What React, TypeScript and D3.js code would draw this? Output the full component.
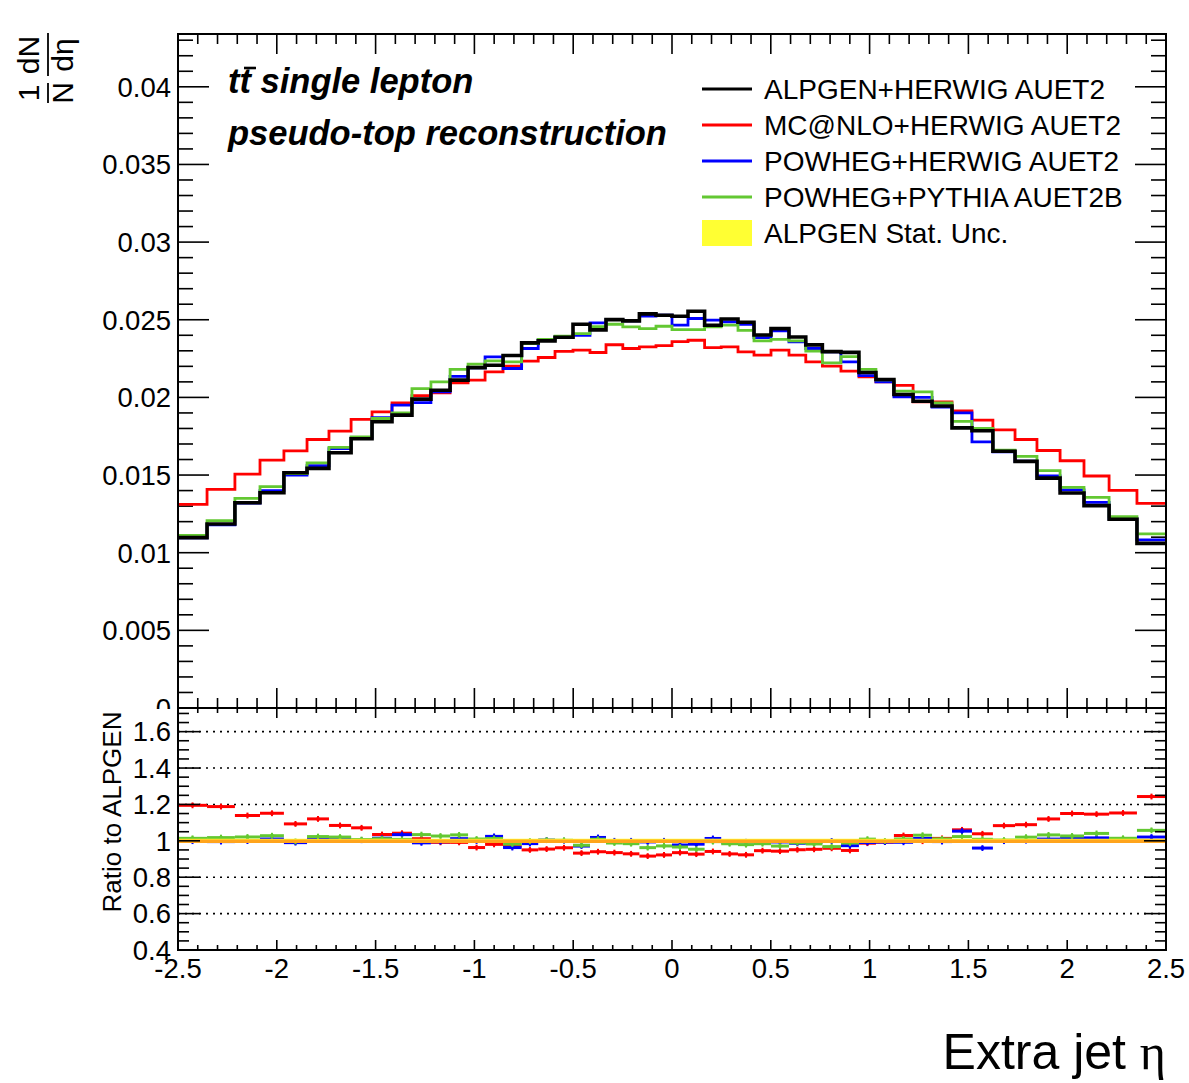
import React from "react";
import * as d3 from "d3";

// ---------- data ----------
const binEdges = [
  -2.5, -2.353, -2.212, -2.085, -1.964, -1.847, -1.736, -1.624, -1.518, -1.417,
  -1.316, -1.22, -1.123, -1.032, -0.946, -0.855, -0.761, -0.677, -0.592, -0.501,
  -0.415, -0.334, -0.249, -0.165, -0.081, 0, 0.081, 0.165, 0.249, 0.334,
  0.415, 0.501, 0.592, 0.677, 0.761, 0.855, 0.946, 1.032, 1.123, 1.22,
  1.316, 1.417, 1.518, 1.624, 1.736, 1.847, 1.964, 2.085, 2.212, 2.353, 2.5,
];

const alpgenHerwig = [
  0.01097, 0.01185, 0.01322, 0.01386, 0.01515, 0.01543, 0.01644, 0.01734, 0.01843, 0.01886,
  0.01989, 0.02046, 0.02111, 0.02192, 0.02207, 0.0227, 0.02351, 0.02364, 0.02387, 0.02471,
  0.02435, 0.02501, 0.02493, 0.02538, 0.02529, 0.02523, 0.02555, 0.02465, 0.02505, 0.02484,
  0.02402, 0.02443, 0.02389, 0.02338, 0.02295, 0.0229, 0.0216, 0.02115, 0.02019, 0.01975,
  0.01945, 0.01804, 0.01785, 0.01653, 0.01588, 0.0148, 0.01384, 0.01303, 0.01215, 0.0106,
];

const mcnloHerwig = [
  0.01311, 0.01408, 0.01506, 0.01596, 0.01656, 0.01729, 0.01783, 0.01858, 0.01907, 0.01965,
  0.02012, 0.02029, 0.02093, 0.02111, 0.02164, 0.02202, 0.02234, 0.02257, 0.02296, 0.02304,
  0.02289, 0.02339, 0.02315, 0.02325, 0.02333, 0.02359, 0.02368, 0.02321, 0.02325, 0.02293,
  0.02272, 0.02304, 0.02272, 0.02229, 0.02201, 0.02169, 0.02132, 0.021, 0.02078, 0.01971,
  0.01971, 0.01913, 0.01854, 0.01791, 0.01729, 0.01658, 0.01592, 0.01494, 0.01401, 0.01318,
];

const powhegHerwig = [
  0.01095, 0.0118, 0.0132, 0.014, 0.015, 0.0156, 0.0167, 0.0174, 0.0187, 0.0195,
  0.01967, 0.02036, 0.02136, 0.0219, 0.02261, 0.02186, 0.02315, 0.02373, 0.02389, 0.024,
  0.0248, 0.02501, 0.02493, 0.02523, 0.02529, 0.02465, 0.02508, 0.02497, 0.02486, 0.02471,
  0.02385, 0.02428, 0.02357, 0.02315, 0.02293, 0.02229, 0.0214, 0.021, 0.02003, 0.02,
  0.01937, 0.019, 0.01714, 0.0165, 0.0159, 0.01494, 0.01404, 0.01324, 0.0122, 0.01082,
];

const powhegPythia = [
  0.01112, 0.01206, 0.0135, 0.01425, 0.0151, 0.01579, 0.01678, 0.01746, 0.01864, 0.01901,
  0.02057, 0.021, 0.0218, 0.02214, 0.02235, 0.02229, 0.02347, 0.02373, 0.02394, 0.02411,
  0.02456, 0.02471, 0.02454, 0.02443, 0.02458, 0.02437, 0.02437, 0.02454, 0.02465, 0.02432,
  0.02364, 0.02373, 0.02364, 0.02298, 0.02222, 0.02263, 0.0218, 0.02113, 0.0204, 0.02036,
  0.01965, 0.01846, 0.018, 0.0166, 0.0162, 0.01528, 0.01421, 0.01356, 0.01232, 0.01121,
];

const legendLabels = [
  "ALPGEN+HERWIG AUET2",
  "MC@NLO+HERWIG AUET2",
  "POWHEG+HERWIG AUET2",
  "POWHEG+PYTHIA AUET2B",
];
const statLabel = "ALPGEN Stat. Unc.";

const xMajorTicks = [-2.5, -2, -1.5, -1, -0.5, 0, 0.5, 1, 1.5, 2, 2.5];
const yTopMajorTicks = [0, 0.005, 0.01, 0.015, 0.02, 0.025, 0.03, 0.035, 0.04];
const yRatioMajorTicks = [0.4, 0.6, 0.8, 1, 1.2, 1.4, 1.6];
const ratioGridLines = [0.6, 0.8, 1.2, 1.4, 1.6];

const ALPGEN_REL_UNC = 0.011;
const RATIO_ERR = 0.016;

// ---------- styling ----------
const FONT = "'Liberation Sans', Arial, Helvetica, sans-serif";
const COLORS = ["#000000", "#ff0000", "#0000ff", "#63c832"];
const YELLOW = "#ffff33";
const ORANGE = "#ffa41c";

const W = 1189;
const H = 1083;
const L = 178;
const R = 1166;
const T = 34;
const M = 708;
const B = 950;

export default function App() {
  const x = d3.scaleLinear().domain([-2.5, 2.5]).range([L, R]);
  const y = d3.scaleLinear().domain([0, 0.0434]).range([M, T]);
  const yr = d3.scaleLinear().domain([0.4, 1.73]).range([B, M]);

  const series = [alpgenHerwig, mcnloHerwig, powhegHerwig, powhegPythia];
  const drawOrder = [1, 2, 3, 0];

  const stepLine = d3
    .line<[number, number]>()
    .x((d) => x(d[0]))
    .y((d) => y(d[1]))
    .curve(d3.curveStepAfter);

  const histPath = (vals: number[]) => {
    const pts: [number, number][] = vals.map((v, i) => [binEdges[i], v]);
    pts.push([binEdges[binEdges.length - 1], vals[vals.length - 1]]);
    return stepLine(pts) || "";
  };

  const xMinor = d3.range(0, 51).map((i) => -2.5 + i * 0.1);
  const yTopMinor = d3.range(0, 44).map((i) => i * 0.001);
  const yRatioMinor = d3.range(0, 27).map((i) => 0.4 + i * 0.05);

  const fmtTop = (v: number) => (v === 0 ? "0" : d3.format("~g")(+v.toFixed(4)));
  const fmtR = (v: number) => String(+v.toFixed(1));

  const bandArea = d3
    .area<number>()
    .x((d) => x(d))
    .y0(yr(1 - ALPGEN_REL_UNC))
    .y1(yr(1 + ALPGEN_REL_UNC));

  return (
    <svg
      width={W}
      height={H}
      viewBox={`0 0 ${W} ${H}`}
      style={{ position: "absolute", left: 0, top: 0, background: "#fff" }}
      fontFamily={FONT}
    >
      <rect x={0} y={0} width={W} height={H} fill="#fff" />

      {/* ===== top panel ===== */}
      {yTopMinor.map((v, i) => {
        const major = i % 5 === 0;
        const len = major ? 31 : 15;
        return (
          <g key={"yt" + i} stroke="#000" strokeWidth={1.6}>
            <line x1={L} x2={L + len} y1={y(v)} y2={y(v)} />
            <line x1={R} x2={R - len} y1={y(v)} y2={y(v)} />
          </g>
        );
      })}
      {xMinor.map((v, i) => {
        const major = i % 5 === 0;
        const len = major ? 20 : 10;
        return (
          <g key={"xt" + i} stroke="#000" strokeWidth={1.6}>
            <line x1={x(v)} x2={x(v)} y1={M} y2={M - len} />
            <line x1={x(v)} x2={x(v)} y1={T} y2={T + len} />
          </g>
        );
      })}
      {yTopMajorTicks.map((v) => (
        <text key={"ytl" + v} x={171} y={y(v) + 9.8} fontSize={27.5} textAnchor="end" fill="#000">
          {fmtTop(v)}
        </text>
      ))}

      {drawOrder.map((si) => (
        <path
          key={"h" + si}
          d={histPath(series[si])}
          fill="none"
          stroke={COLORS[si]}
          strokeWidth={si === 0 ? 3.6 : 2.8}
          strokeLinejoin="miter"
        />
      ))}

      <rect x={L} y={T} width={R - L} height={M - T} fill="none" stroke="#000" strokeWidth={2} />

      {/* y axis title: 1/N dN/deta */}
      <g transform="translate(48,0) rotate(-90)" fontSize={30} fill="#000">
        <text x={-93} y={-9} textAnchor="middle">1</text>
        <line x1={-103} x2={-83} y1={0} y2={0} stroke="#000" strokeWidth={1.8} />
        <text x={-93} y={25} textAnchor="middle">N</text>
        <text x={-55} y={-9} textAnchor="middle">dN</text>
        <line x1={-76} x2={-33} y1={0} y2={0} stroke="#000" strokeWidth={1.8} />
        <text x={-55} y={25} textAnchor="middle">dη</text>
      </g>

      {/* annotations */}
      <text x={228} y={93} fontSize={34.5} fontWeight="bold" fontStyle="italic" fill="#000">
        tt single lepton
      </text>
      <line x1={244} x2={256} y1={68} y2={68} stroke="#000" strokeWidth={2.6} />
      <text x={228} y={145} fontSize={34.5} fontWeight="bold" fontStyle="italic" fill="#000">
        pseudo-top reconstruction
      </text>

      {/* legend */}
      {legendLabels.map((lab, i) => {
        const ly = 89 + i * 36;
        return (
          <g key={"lg" + i}>
            <line x1={702} x2={752} y1={ly} y2={ly} stroke={COLORS[i]} strokeWidth={3} />
            <text x={764} y={ly + 10} fontSize={28} fill="#000">
              {lab}
            </text>
          </g>
        );
      })}
      <rect x={702} y={220} width={50} height={26} fill={YELLOW} />
      <text x={764} y={243} fontSize={28} fill="#000">
        {statLabel}
      </text>

      {/* ===== ratio panel ===== */}
      <rect x={0} y={M + 1} width={W} height={B - M + 60} fill="#fff" />

      {ratioGridLines.map((g) => (
        <line
          key={"g" + g}
          x1={L}
          x2={R}
          y1={yr(g)}
          y2={yr(g)}
          stroke="#000"
          strokeWidth={1.6}
          strokeDasharray="2,5"
        />
      ))}

      {[1, 2, 3].map((si) => (
        <g key={"r" + si} stroke={COLORS[si]} fill={COLORS[si]}>
          {series[si].map((v, i) => {
            const r = v / alpgenHerwig[i];
            const x0 = x(binEdges[i]);
            const x1 = x(binEdges[i + 1]);
            const xc = (x0 + x1) / 2;
            return (
              <g key={i}>
                <line x1={x0} x2={x1} y1={yr(r)} y2={yr(r)} strokeWidth={3} />
                <line x1={xc} x2={xc} y1={yr(r - RATIO_ERR)} y2={yr(r + RATIO_ERR)} strokeWidth={2} />
                <circle cx={xc} cy={yr(r)} r={2} stroke="none" />
              </g>
            );
          })}
        </g>
      ))}

      <path d={bandArea(binEdges) || ""} fill={YELLOW} />
      <line x1={L} x2={R} y1={yr(0.998)} y2={yr(0.998)} stroke={ORANGE} strokeWidth={3.5} />

      {yRatioMinor.map((v, i) => {
        const major = i % 4 === 0;
        const len = major ? 22 : 11;
        return (
          <g key={"ryt" + i} stroke="#000" strokeWidth={1.6}>
            <line x1={L} x2={L + len} y1={yr(v)} y2={yr(v)} />
            <line x1={R} x2={R - len} y1={yr(v)} y2={yr(v)} />
          </g>
        );
      })}
      {xMinor.map((v, i) => {
        const major = i % 5 === 0;
        const len = major ? 10 : 5;
        return (
          <g key={"rxt" + i} stroke="#000" strokeWidth={1.6}>
            <line x1={x(v)} x2={x(v)} y1={B} y2={B - len} />
            <line x1={x(v)} x2={x(v)} y1={M} y2={M + len} />
          </g>
        );
      })}
      <rect x={L} y={M} width={R - L} height={B - M} fill="none" stroke="#000" strokeWidth={2} />

      {yRatioMajorTicks.map((v) => (
        <text key={"rytl" + v} x={171} y={yr(v) + 9.8} fontSize={27.5} textAnchor="end" fill="#000">
          {fmtR(v)}
        </text>
      ))}
      {xMajorTicks.map((v) => (
        <text key={"xtl" + v} x={x(v)} y={978} fontSize={27.5} textAnchor="middle" fill="#000">
          {String(v)}
        </text>
      ))}

      <text
        transform={`translate(121,812) rotate(-90)`}
        fontSize={26}
        textAnchor="middle"
        fill="#000"
      >
        Ratio to ALPGEN
      </text>

      <text x={R} y={1069} fontSize={50} textAnchor="end" fill="#000">
        Extra jet <tspan fontFamily="'Liberation Serif', 'DejaVu Serif', serif" fontSize={50}>η</tspan>
      </text>
    </svg>
  );
}
